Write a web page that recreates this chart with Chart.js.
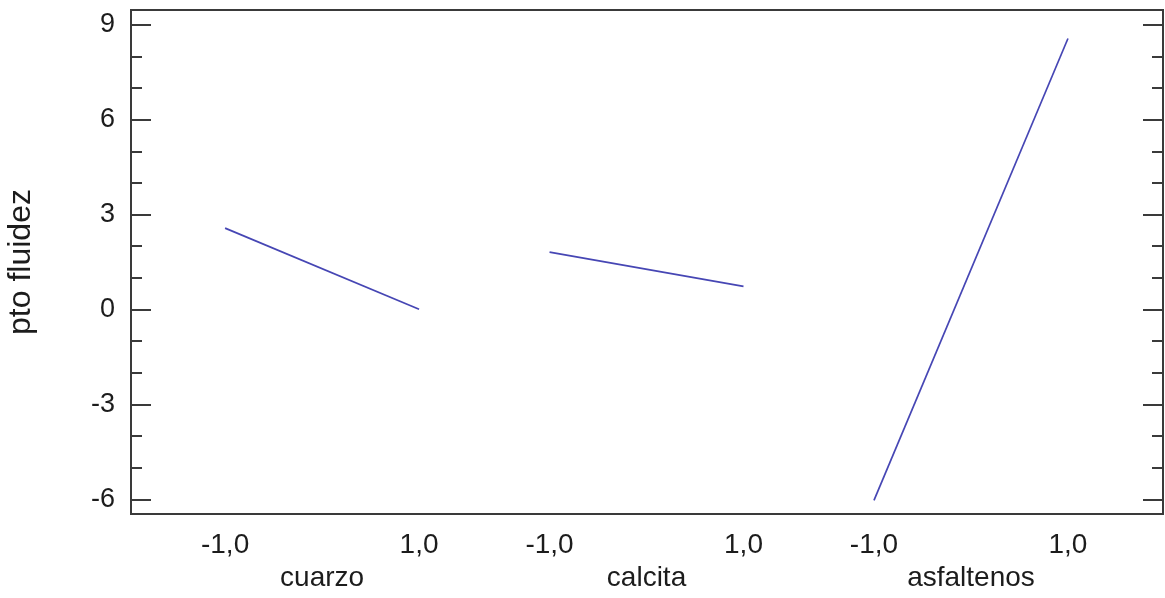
<!DOCTYPE html>
<html>
<head>
<meta charset="utf-8">
<script src="https://cdn.jsdelivr.net/npm/chart.js@4"></script>
<style>
  html, body { margin: 0; padding: 0; background: #ffffff; }
  #wrap { width: 1165px; height: 598px; }
</style>
</head>
<body>
<div id="wrap"><canvas id="c" width="1165" height="598"></canvas></div>
<script>
// Main effects of each factor on "pto fluidez" (low / high level means)
const factors = ['cuarzo', 'calcita', 'asfaltenos'];
const levels = [-1, 1];
const levelLabels = ['-1,0', '1,0'];
const cuarzo = [2.58, 0.02];
const calcita = [1.82, 0.74];
const asfaltenos = [-6.02, 8.57];
const yMajorTicks = [-6, -3, 0, 3, 6, 9];
const yTitle = 'pto fluidez';

// Panel placement along the shared x scale
const FIRST_CENTER = 1.97;
const PANEL_STEP = 3.345;
const X_MAX = 10.64;
const Y_MIN = -6.45;
const Y_MAX = 9.47;

const FONT = "'Liberation Sans', Arial, sans-serif";
const TEXT = '#1c1c1c';
const LINE = '#4646b4';
const FRAME = '#3a3a3a';

const series = [cuarzo, calcita, asfaltenos];
const center = i => FIRST_CENTER + i * PANEL_STEP;

// x ticks: one per level of each factor, plus the factor name under the panel centre
const xTickDefs = [];
factors.forEach((name, i) => {
  xTickDefs.push({ value: center(i) + levels[0], label: levelLabels[0] });
  xTickDefs.push({ value: center(i), label: ['', name] });
  xTickDefs.push({ value: center(i) + levels[1], label: levelLabels[1] });
});

const datasets = series.map((vals, i) => ({
  label: factors[i],
  data: levels.map((lv, j) => ({ x: center(i) + lv, y: vals[j] })),
  borderColor: LINE,
  borderWidth: 1.7,
  pointRadius: 0,
  fill: false,
  tension: 0
}));

// Plot frame with inward tick marks on both vertical sides
const framePlugin = {
  id: 'frame',
  afterDatasetsDraw(chart) {
    const { ctx, chartArea: a, scales: { y } } = chart;
    ctx.save();
    ctx.strokeStyle = FRAME;
    ctx.lineWidth = 2;
    ctx.strokeRect(a.left, a.top, a.right - a.left, a.bottom - a.top);
    y.ticks.forEach(t => {
      const py = Math.round(y.getPixelForValue(t.value));
      const len = yMajorTicks.includes(t.value) ? 20 : 11;
      ctx.beginPath();
      ctx.moveTo(a.left, py);
      ctx.lineTo(a.left + len, py);
      ctx.moveTo(a.right, py);
      ctx.lineTo(a.right - len, py);
      ctx.stroke();
    });
    ctx.restore();
  }
};

new Chart(document.getElementById('c'), {
  type: 'line',
  data: { datasets },
  plugins: [framePlugin],
  options: {
    responsive: false,
    devicePixelRatio: 1,
    animation: false,
    layout: { padding: { top: 10, right: 2, left: 0, bottom: 0 } },
    plugins: { legend: { display: false }, tooltip: { enabled: false } },
    scales: {
      x: {
        type: 'linear',
        min: 0,
        max: X_MAX,
        grid: { display: false, drawTicks: false },
        border: { display: false },
        afterBuildTicks(scale) {
          scale.ticks = xTickDefs.map(t => ({ value: t.value }));
        },
        afterFit(scale) {
          scale.height = 84;
          scale.paddingLeft = 0;
          scale.paddingRight = 0;
        },
        ticks: {
          autoSkip: false,
          maxRotation: 0,
          minRotation: 0,
          padding: 14,
          color: TEXT,
          font: { family: FONT, size: 28 },
          callback: (v, idx) => xTickDefs[idx] ? xTickDefs[idx].label : ''
        }
      },
      y: {
        type: 'linear',
        min: Y_MIN,
        max: Y_MAX,
        grid: { display: false, drawTicks: false },
        border: { display: false },
        afterBuildTicks(scale) {
          const t = [];
          for (let v = -6; v <= 9; v++) t.push({ value: v });
          scale.ticks = t;
        },
        afterFit(scale) {
          scale.width = 131;
          scale.paddingTop = 0;
          scale.paddingBottom = 0;
        },
        ticks: {
          autoSkip: false,
          padding: 16,
          color: TEXT,
          font: { family: FONT, size: 27 },
          callback: v => yMajorTicks.includes(v) ? String(v) : ''
        },
        title: {
          display: true,
          text: yTitle,
          color: TEXT,
          font: { family: FONT, size: 32 },
          padding: { top: 2, bottom: 0 }
        }
      }
    }
  }
});
</script>
</body>
</html>
